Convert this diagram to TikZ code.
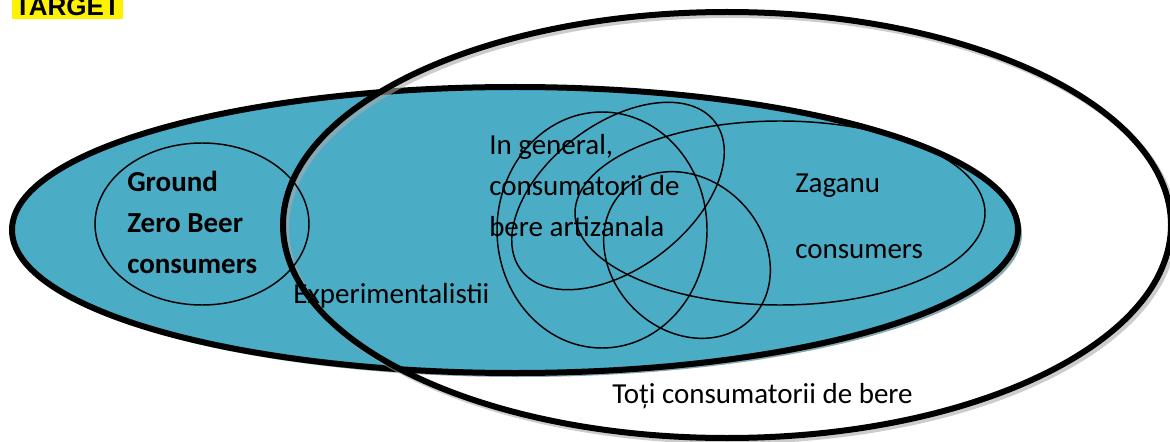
\documentclass[tikz,border=0pt]{standalone}
\usepackage{fontspec}
\setmainfont{Carlito}
\newfontfamily\targetfont{Liberation Sans}
\usetikzlibrary{shapes.geometric}

\definecolor{beerblue}{RGB}{75,172,198}
\definecolor{beershadow}{RGB}{138,168,178}
\definecolor{ringshadow}{RGB}{170,170,170}

\begin{document}
\begin{tikzpicture}[
    x=0.75pt, y=-0.75pt,
    font=\fontsize{21.75}{30.75}\selectfont,
    bigring/.style={
        ellipse, draw=black, line width=4.5pt,
        inner sep=0pt
    },
    segment/.style={
        ellipse, draw=black, line width=1.1pt,
        inner sep=0pt
    },
    txt/.style={
        anchor=base west, inner sep=0pt, align=left
    }
]
\useasboundingbox (0,0) rectangle (1170,442);

% ---------------------------------------------------------------------
% 1. BLUE SEGMENT (with shadow)
% ---------------------------------------------------------------------
\node[bigring, draw=none, fill=beershadow, minimum width=754.5pt, minimum height=214.5pt] (SegShadow) at (519,234) {};
\node[bigring, fill=beerblue, minimum width=754.5pt, minimum height=214.5pt] (Segment) at (515,230) {};

% ---------------------------------------------------------------------
% 2. ALL BEER CONSUMERS (open ring, with shadow)
% ---------------------------------------------------------------------
\node[bigring, draw=ringshadow, draw opacity=0.6, minimum width=666pt, minimum height=319.5pt] (AllShadow) at (730,228) {};
\node[bigring, minimum width=666pt, minimum height=319.5pt] (AllBeer) at (727,225) {};

% ---------------------------------------------------------------------
% 3. INNER GROUPS
% ---------------------------------------------------------------------
\node[segment, minimum width=160.5pt, minimum height=121.5pt] (GroundZero) at (202,224) {};
\node[segment, minimum width=157.5pt, minimum height=177pt] (CraftA) at (602,230) {};
\node[segment, minimum width=183pt, minimum height=108pt, rotate=37.5] (CraftB) at (618,196) {};
\node[segment, minimum width=307.5pt, minimum height=138pt] (Zaganu) at (780,213) {};
\node[segment, minimum width=135.75pt, minimum height=113.25pt, rotate=-45] (CraftC) at (687,255) {};

% ---------------------------------------------------------------------
% 4. TEXTS (base = last line)
% ---------------------------------------------------------------------
\node[txt, font=\fontsize{21.75}{30.4}\selectfont\bfseries] (GroundTxt) at (127,273) {Ground\\Zero Beer\\consumers};
\node[txt] (CraftTxt) at (489,236) {In general,\\consumatorii de\\bere artizanala};
\node[txt, font=\fontsize{21.75}{49.5}\selectfont] (ZaganuTxt) at (795,258) {Zaganu\\consumers};
\node[txt] (ExpTxt) at (293,303) {Experimentalistii};
\node[txt] (AllTxt) at (612,403) {Toți consumatorii de bere};

% TARGET tag
\node[anchor=base west, fill=yellow, inner xsep=2pt, inner ysep=1.8pt,
      font=\targetfont\bfseries\fontsize{19.5}{20}\selectfont] (Target) at (12,16) {TARGET};

\end{tikzpicture}
\end{document}
